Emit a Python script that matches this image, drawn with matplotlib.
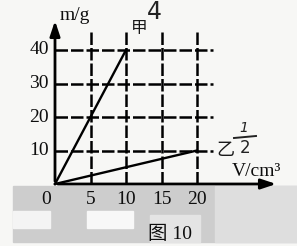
import matplotlib
matplotlib.use("Agg")
import matplotlib.pyplot as plt
from matplotlib.patches import Rectangle

# Data
x_ticks = [0, 5, 10, 15, 20]
y_ticks = [10, 20, 30, 40]
jia_V = [0, 10]
jia_m = [0, 40]
yi_V = [0, 20]
yi_m = [0, 10]
x_label = "V/cm³"
y_label = "m/g"
caption = "图 10"

SERIF = ["Liberation Serif", "Noto Sans CJK SC"]
CJK = ["Noto Sans CJK SC", "DejaVu Sans"]

W, H = 297, 246
fig = plt.figure(figsize=(W / 100, H / 100), dpi=100)
fig.patch.set_facecolor("#f7f7f5")
ax = fig.add_axes([0, 0, 1, 1])
ax.set_facecolor("none")

# pixel mapping: origin at (55,184), 7.1 px per unit x, 3.35 px per unit y
ox, oy, sx, sy = 55, 184, 7.1, 3.35
ax.set_xlim(-ox / sx, (W - ox) / sx)
ax.set_ylim(-(H - oy) / sy, oy / sy)
ax.axis("off")

def px(x, y):
    return ((x - ox) / sx, (oy - y) / sy)

# gray scan band at bottom
bx, by = px(13, 242)
bx2, by2 = px(297, 186)
ax.add_patch(Rectangle((bx, by), bx2 - bx, by2 - by, color="#cdcdcd", zorder=0))
for (x0, y0, x1, y1, c) in [(13, 211, 50, 228, "#f4f4f4"), (87, 211, 133, 228, "#f8f8f8"),
                            (215, 186, 297, 242, "#dedede"), (150, 215, 200, 242, "#e4e4e4")]:
    a, b = px(x0, y1)
    c2, d = px(x1, y0)
    ax.add_patch(Rectangle((a, b), c2 - a, d - b, color=c, zorder=0.5))

# grid lines (dashed)
x_top = px(0, 30)[1]
y_right = px(213, 0)[0]
for xv in x_ticks[1:]:
    ax.plot([xv, xv], [0, x_top], color="black", lw=1.8, ls=(0, (5, 1.2)), zorder=2)
for yv in y_ticks:
    ax.plot([0, y_right], [yv, yv], color="black", lw=1.8, ls=(0, (5, 1.2)), zorder=2)

# axes with arrows
x_tip = px(279, 0)[0]
y_tip = px(0, 18)[1]
ax.annotate("", xy=(x_tip, 0), xytext=(0, 0),
            arrowprops=dict(arrowstyle="-|>,head_length=0.9,head_width=0.3", color="black", lw=2), zorder=3)
ax.annotate("", xy=(0, y_tip), xytext=(0, 0),
            arrowprops=dict(arrowstyle="-|>,head_length=0.9,head_width=0.3", color="black", lw=2), zorder=3)

# data lines
ax.plot(jia_V, jia_m, color="black", lw=1.7, zorder=4)
ax.plot(yi_V, yi_m, color="black", lw=1.7, zorder=4)

# tick labels
for xv in x_ticks:
    xx = xv if xv else px(46, 0)[0]
    ax.text(xx, px(0, 200)[1], str(xv), ha="center", va="center", fontsize=14,
            family=SERIF, color="#0e0e0e")
for yv in y_ticks:
    ax.text(px(49, 0)[0], yv, str(yv), ha="right", va="center", fontsize=14,
            family=SERIF, color="#0e0e0e")

# axis labels
ax.text(*px(75, 16), y_label, ha="center", va="center", fontsize=14, family=SERIF,
        color="#0e0e0e")
ax.text(*px(256, 172), x_label, ha="center", va="center", fontsize=14, family=SERIF,
        color="#0e0e0e")

# series labels
ax.text(*px(139, 28), "甲", ha="center", va="center", fontsize=12, family=CJK, color="#1a1a1a")
ax.text(*px(225, 150), "乙", ha="center", va="center", fontsize=13, family=CJK, color="#1a1a1a")

# handwritten annotations
ax.text(*px(154, 12), "4", ha="center", va="center", fontsize=17, family=["DejaVu Sans"],
        color="#222222")
ax.text(*px(244, 128), "1", ha="center", va="center", fontsize=10, family=["DejaVu Sans"],
        style="italic", color="#222222")
ax.plot(*zip(px(234, 138), px(256, 136)), color="#222222", lw=1.4)
ax.text(*px(245, 148), "2", ha="center", va="center", fontsize=12, family=["DejaVu Sans"],
        color="#222222")

# caption
ax.text(*px(170, 234), caption, ha="center", va="center", fontsize=14, family=SERIF,
        color="#0e0e0e")

fig.savefig("out.png", dpi=100, facecolor=fig.get_facecolor())
